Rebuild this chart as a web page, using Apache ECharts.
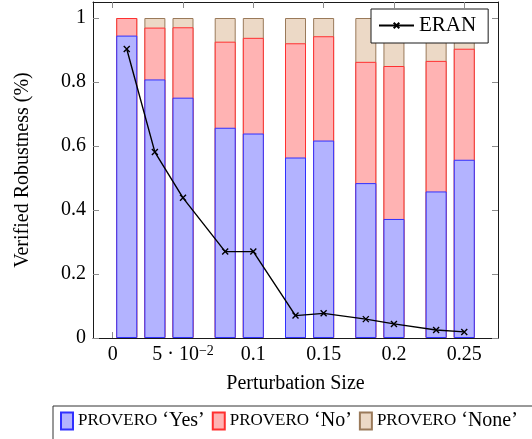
<!DOCTYPE html>
<html>
<head>
<meta charset="utf-8">
<script src="https://cdn.jsdelivr.net/npm/echarts@6/dist/echarts.min.js"></script>
<style>
html,body{margin:0;padding:0;background:#fff;}
#chart{width:532px;height:439px;}
</style>
</head>
<body>
<div id="chart"></div>
<script>
// Perturbation sizes (x positions of the bars / ERAN points)
const perturbation = [0.01, 0.03, 0.05, 0.08, 0.10, 0.13, 0.15, 0.18, 0.20, 0.23, 0.25];
// PROVERO outcome shares (stacked)
const proveroYes  = [0.945, 0.808, 0.751, 0.657, 0.639, 0.564, 0.617, 0.484, 0.372, 0.458, 0.557];
const proveroNo   = [0.055, 0.162, 0.220, 0.269, 0.299, 0.357, 0.326, 0.379, 0.478, 0.408, 0.347];
const proveroNone = [0.000, 0.030, 0.029, 0.074, 0.062, 0.079, 0.057, 0.137, 0.150, 0.134, 0.096];
// ERAN verified robustness
const eran = [0.903, 0.581, 0.438, 0.270, 0.270, 0.070, 0.077, 0.059, 0.044, 0.025, 0.019];
// Tick values
const xTicks = [0, 0.05, 0.1, 0.15, 0.2, 0.25];
const yTicks = [0, 0.2, 0.4, 0.6, 0.8, 1];

const FONT = "'Liberation Serif', 'Times New Roman', serif";
const cumNo = proveroYes.map((v, i) => v + proveroNo[i]);
const cumNone = cumNo.map((v, i) => v + proveroNone[i]);
const pairs = arr => arr.map((v, i) => [perturbation[i], v]);

const chart = echarts.init(document.getElementById('chart'), null, {renderer: 'canvas'});
const tickStyle = {show: true, inside: true, length: 6, lineStyle: {color: '#8c8c8c', width: 1}};
const axisLineStyle = {show: true, onZero: false, lineStyle: {color: '#1a1a1a', width: 1}};

const option = {
  backgroundColor: '#ffffff',
  animation: false,
  textStyle: {fontFamily: FONT},
  grid: {left: 93, right: 34, top: 2, bottom: 101, containLabel: false, outerBoundsMode: 'none'},
  xAxis: [{
    type: 'value', min: -0.014, max: 0.274, position: 'bottom',
    axisLine: axisLineStyle,
    axisTick: Object.assign({customValues: xTicks}, tickStyle),
    splitLine: {show: false},
    axisLabel: {
      customValues: xTicks, margin: 6, color: '#000', fontFamily: FONT, fontSize: 20,
      formatter: v => Math.abs(v - 0.05) < 1e-9 ? '{a|5 · 10}{s|−2}' : '{a|' + String(+v.toFixed(2)) + '}',
      rich: {a: {fontFamily: FONT, fontSize: 20, color: '#000', lineHeight: 22},
             s: {fontFamily: FONT, fontSize: 14, color: '#000', verticalAlign: 'top', lineHeight: 16}}
    },
    name: 'Perturbation Size', nameLocation: 'middle', nameGap: 36,
    nameTextStyle: {fontFamily: FONT, fontSize: 20, color: '#000'}
  }, {
    type: 'value', min: -0.014, max: 0.274, position: 'top',
    axisLine: axisLineStyle,
    axisTick: Object.assign({customValues: xTicks}, tickStyle),
    axisLabel: {show: false}, splitLine: {show: false}
  }],
  yAxis: [{
    type: 'value', min: 0, max: 1.05, position: 'left',
    axisLine: axisLineStyle,
    axisTick: Object.assign({customValues: yTicks}, tickStyle),
    splitLine: {show: false},
    axisLabel: {customValues: yTicks, margin: 7, color: '#000', fontFamily: FONT, fontSize: 20,
      formatter: v => String(+v.toFixed(1))},
    name: 'Verified Robustness (%)', nameLocation: 'middle', nameGap: 60,
    nameTextStyle: {fontFamily: FONT, fontSize: 20, color: '#000'}
  }, {
    type: 'value', min: 0, max: 1.05, position: 'right',
    axisLine: axisLineStyle,
    axisTick: Object.assign({customValues: yTicks}, tickStyle),
    axisLabel: {show: false}, splitLine: {show: false}
  }],
  legend: [{
    data: ['ERAN'], left: 371, top: 9, orient: 'horizontal',
    backgroundColor: '#fff', borderColor: '#1a1a1a', borderWidth: 1,
    padding: [6, 12, 7, 7], itemWidth: 35, itemHeight: 7,
    textStyle: {fontFamily: FONT, fontSize: 21, color: '#000', lineHeight: 20}
  }, {
    data: ['PROVERO ‘Yes’', 'PROVERO ‘No’', 'PROVERO ‘None’'],
    left: 53, top: 406, width: 520, orient: 'horizontal', icon: 'rect',
    backgroundColor: '#fff', borderColor: '#333', borderWidth: 1,
    padding: [5, 20, 40, 7], itemGap: 7, itemWidth: 12, itemHeight: 17,
    formatter: n => '{sc|PROVERO} {q|' + n.slice(8) + '}',
    textStyle: {fontFamily: FONT, fontSize: 20, color: '#000',
      rich: {sc: {fontFamily: FONT, fontSize: 17, color: '#000'},
             q: {fontFamily: FONT, fontSize: 20, color: '#000'}}}
  }],
  series: [{
    name: 'PROVERO ‘None’', type: 'bar', barWidth: 21, barGap: '-100%',
    itemStyle: {color: '#ecd9c6', borderColor: '#9a7a5a', borderWidth: 1},
    data: pairs(cumNone)
  }, {
    name: 'PROVERO ‘No’', type: 'bar', barWidth: 21, barGap: '-100%',
    itemStyle: {color: '#ffb3b3', borderColor: '#ff3030', borderWidth: 1},
    data: pairs(cumNo)
  }, {
    name: 'PROVERO ‘Yes’', type: 'bar', barWidth: 21, barGap: '-100%',
    itemStyle: {color: '#b3b3ff', borderColor: '#3030ff', borderWidth: 1},
    data: pairs(proveroYes)
  }, {
    name: 'ERAN', type: 'line', z: 5,
    symbol: 'path://M0,0L10,10M10,0L0,10', symbolSize: 6,
    lineStyle: {color: '#000', width: 1.4},
    itemStyle: {color: '#000', borderColor: '#000', borderWidth: 1.4},
    data: pairs(eran)
  }]
};
chart.setOption(option);
</script>
</body>
</html>
